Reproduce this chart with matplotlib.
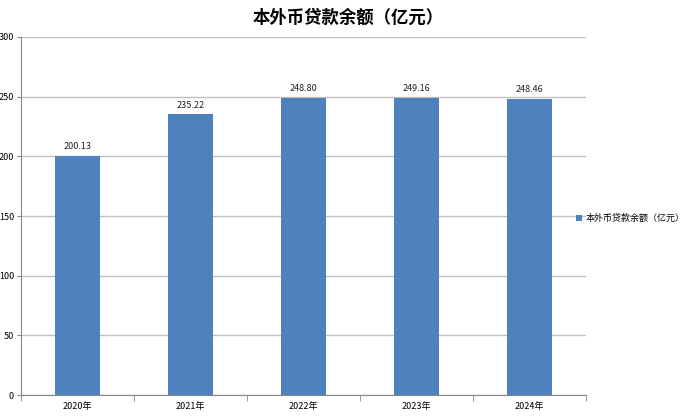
import matplotlib.pyplot as plt
import numpy as np

plt.rcParams['font.family'] = ['Noto Sans CJK SC', 'DejaVu Sans']

years = ['2020年', '2021年', '2022年', '2023年', '2024年']
loans = [200.13, 235.22, 248.80, 249.16, 248.46]
series_name = '本外币贷款余额（亿元）'

fig = plt.figure(figsize=(6.88, 4.18), dpi=100)
ax = fig.add_axes([0.0305, 0.055, 0.8215, 0.8565])

x = np.arange(len(years))
bars = ax.bar(x, loans, width=0.4, color='#4F81BD', label=series_name, zorder=3)

for xi, v in zip(x, loans):
    ax.text(xi, v + 4, '%.2f' % v, ha='center', va='bottom', fontsize=6.5, color='#222222')

ax.set_xlim(-0.5, len(years) - 0.5)
ax.set_ylim(0, 300)
ax.set_yticks(range(0, 301, 50))
ax.set_xticks(x)
ax.set_xticklabels(years)
ax.set_xticks(np.arange(-0.5, len(years)), minor=True)
ax.tick_params(axis='x', which='major', length=0, labelsize=6.5, pad=5)
ax.tick_params(axis='x', which='minor', length=4, color='#868686', direction='out')
ax.tick_params(axis='y', labelsize=6.5, length=3, color='#868686', pad=2)

ax.grid(axis='y', color='#BFBFBF', linewidth=1, zorder=0)
for side in ['top', 'right']:
    ax.spines[side].set_visible(False)
for side in ['left', 'bottom']:
    ax.spines[side].set_color('#868686')

fig.suptitle(series_name, x=0.506, y=0.978, fontsize=12.5, fontweight='bold')

fig.legend(loc='center left', bbox_to_anchor=(0.825, 0.477), frameon=False,
           fontsize=6.5, handlelength=0.7, handleheight=0.7, handletextpad=0.4)

fig.savefig('out.png', dpi=100)
